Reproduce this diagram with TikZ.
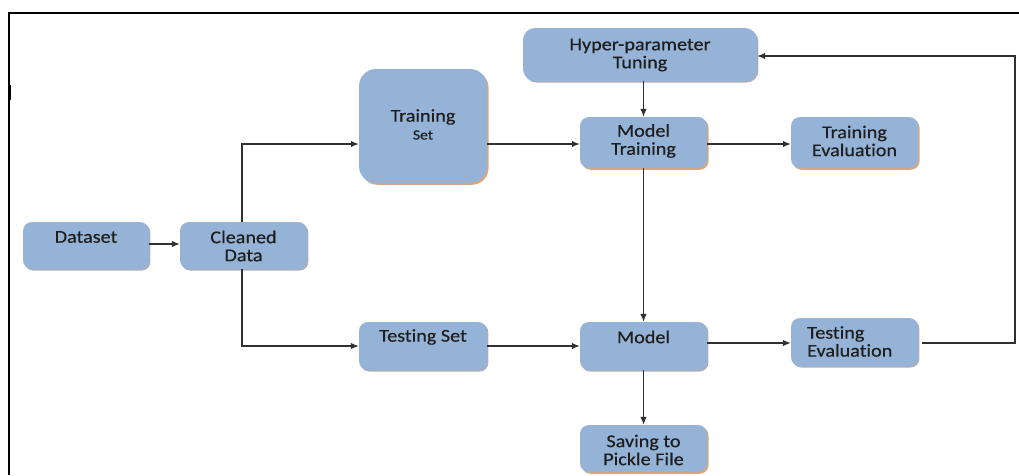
\documentclass[tikz,border=0pt]{standalone}
\usepackage{fontspec}
\setmainfont{Carlito}[Ligatures=NoCommon, FakeStretch=1.12, FakeBold=0.5]
\usetikzlibrary{arrows.meta,shadows,calc}
\definecolor{boxfill}{HTML}{95B3D7}
\definecolor{shorange}{HTML}{D9A77E}
\definecolor{shgrey}{HTML}{8A8AA0}
\definecolor{txtc}{HTML}{1E1E1E}
\definecolor{linec}{HTML}{303030}
\tikzset{
  box/.style={rounded corners=9pt, fill=boxfill, draw=none, inner sep=0pt},
  oshadow/.style={general shadow={shadow xshift=1.6pt, shadow yshift=-1.8pt, fill=shorange}},
  gshadow/.style={general shadow={shadow xshift=1.4pt, shadow yshift=-1.6pt, fill=shgrey!70}},
  lbl/.style={font=\fontsize{18}{18}\selectfont, text=txtc, align=center, inner sep=0pt},
  conn/.style={draw=linec, line width=1.2pt, -{Latex[length=8pt,width=6.5pt]}},
  plain/.style={draw=linec, line width=1.2pt},
  frame/.style={draw=black, line width=2pt}
}
\begin{document}
\begin{tikzpicture}[x=1pt,y=-1pt]
\useasboundingbox (0,0) rectangle (1019,475);
% frame
\draw[frame] (9,475) -- (9,12.5) -- (1019,12.5);
\draw[draw=black, line width=3pt] (9.5,85) -- (9.5,100);
% boxes
\node[box,gshadow,minimum width=126pt,minimum height=47pt] (ds) at (86,245.5) {};
\node[box,gshadow,minimum width=127pt,minimum height=47pt] (cd) at (243.5,245.5) {};
\node[box,oshadow,rounded corners=17pt,minimum width=128pt,minimum height=114pt] (trs) at (423,126) {};
\node[box,gshadow,minimum width=128pt,minimum height=48pt] (tes) at (423,346) {};
\node[box,gshadow,rounded corners=12pt,minimum width=234pt,minimum height=53pt] (hyp) at (640,54.5) {};
\node[box,oshadow,minimum width=127pt,minimum height=51pt] (mt) at (643.5,142.5) {};
\node[box,oshadow,minimum width=127pt,minimum height=51pt] (te) at (854.5,142.5) {};
\node[box,gshadow,minimum width=127pt,minimum height=48pt] (md) at (643.5,346) {};
\node[box,gshadow,minimum width=127pt,minimum height=48pt] (tev) at (854.5,342) {};
\node[box,oshadow,minimum width=127pt,minimum height=47pt] (sv) at (643.5,448.5) {};
% labels
\node[lbl] (ds-t) at (86,237) {Dataset};
\node[lbl] (cd-t) at (243.5,246) {Cleaned\\Data};
\node[lbl] (trs-t1) at (423,117) {Training};
\node[lbl,font=\fontsize{14}{14}\selectfont] (trs-t2) at (423,135) {Set};
\node[lbl] (tes-t) at (423,337) {Testing Set};
\node[lbl] (hyp-t) at (640,55) {Hyper-parameter\\Tuning};
\node[lbl] (mt-t) at (643.5,141) {Model\\Training};
\node[lbl] (te-t) at (854.5,141) {Training\\Evaluation};
\node[lbl] (md-t) at (643.5,337) {Model};
\node[lbl,align=left,anchor=west] (tev-t) at (807,341.5) {Testing\\Evaluation};
\node[lbl] (sv-t) at (643.5,450) {Saving to\\Pickle File};
% connectors
\coordinate (j1) at (trs.west |- 0,144);
\coordinate (rt) at (1015,56);
\draw[conn] (ds.east |- 0,244) -- (cd.west |- 0,244);
\draw[conn] (cd.north -| 242,0) |- (j1);
\draw[conn] (cd.south -| 242,0) |- (tes.west);
\draw[conn] (j1 -| trs.east) -- (j1 -| mt.west);
\draw[conn] (tes.east) -- (md.west);
\draw[conn] (hyp.south -| mt.north) -- (mt.north);
\draw[conn] (j1 -| mt.east) -- (j1 -| te.west);
\draw[conn] (mt.south) -- (md.north);
\draw[conn] (md.south) -- (sv.north);
\draw[conn] (md.east |- 0,343) -- (tev.west |- 0,343);
\draw[conn] ($(tev.east |- 0,343)+(4,0)$) -| (rt) -- (rt -| hyp.east);
\end{tikzpicture}
\end{document}
